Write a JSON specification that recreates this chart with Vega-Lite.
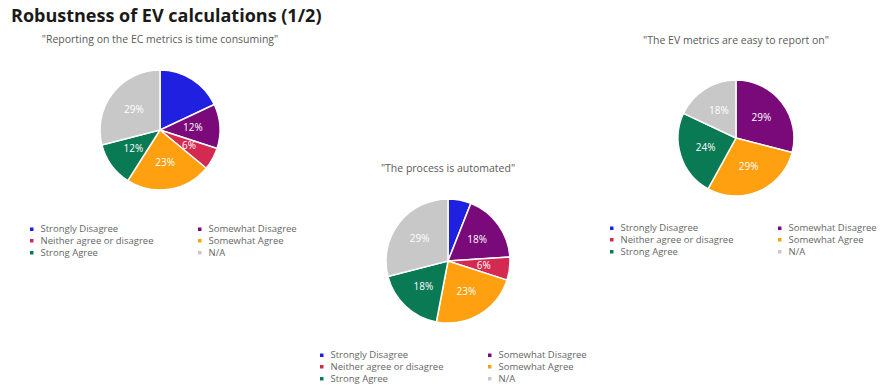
{
  "$schema": "https://vega.github.io/schema/vega-lite/v6.json",
  "padding": {"left": 11, "top": 7, "right": 2, "bottom": 0},
  "background": "white",
  "title": {"text": "Robustness of EV calculations (1/2)", "anchor": "start", "fontSize": 18, "fontWeight": "bold", "color": "#1a1a1a", "offset": 9, "dx": -9, "font": "Open Sans"},
  "datasets": {
    "survey": [
      {"question": "A", "category": "Strongly Disagree", "k": 1, "value": 18, "label": ""},
      {"question": "A", "category": "Somewhat Disagree", "k": 2, "value": 12, "label": "12%"},
      {"question": "A", "category": "Neither agree or disagree", "k": 3, "value": 6, "label": "6%"},
      {"question": "A", "category": "Somewhat Agree", "k": 4, "value": 23, "label": "23%"},
      {"question": "A", "category": "Strong Agree", "k": 5, "value": 12, "label": "12%"},
      {"question": "A", "category": "N/A", "k": 6, "value": 29, "label": "29%"},
      {"question": "B", "category": "Strongly Disagree", "k": 1, "value": 6, "label": ""},
      {"question": "B", "category": "Somewhat Disagree", "k": 2, "value": 18, "label": "18%"},
      {"question": "B", "category": "Neither agree or disagree", "k": 3, "value": 6, "label": "6%"},
      {"question": "B", "category": "Somewhat Agree", "k": 4, "value": 23, "label": "23%"},
      {"question": "B", "category": "Strong Agree", "k": 5, "value": 18, "label": "18%"},
      {"question": "B", "category": "N/A", "k": 6, "value": 29, "label": "29%"},
      {"question": "C", "category": "Somewhat Disagree", "k": 2, "value": 29, "label": "29%"},
      {"question": "C", "category": "Somewhat Agree", "k": 4, "value": 29, "label": "29%"},
      {"question": "C", "category": "Strong Agree", "k": 5, "value": 24, "label": "24%"},
      {"question": "C", "category": "N/A", "k": 6, "value": 18, "label": "18%"}
    ]
  },
  "spacing": 8,
  "resolve": {"legend": {"color": "independent"}},
  "hconcat": [
    {
      "width": 280, "height": 124,
      "data": {"name": "survey"},
      "transform": [{"filter": "datum.question == 'A'"}],
      "title": {"text": "\"Reporting on the EC metrics is time consuming\"", "fontSize": 10.5, "fontWeight": "normal", "color": "#5a5a5a", "offset": 22},
      "encoding": {
        "theta": {"field": "value", "type": "quantitative", "stack": true},
        "order": {"field": "k", "type": "quantitative"}
      },
      "layer": [
        {
          "mark": {"type": "arc", "outerRadius": 60, "stroke": "white", "strokeWidth": 1.5},
          "encoding": {
            "color": {"field": "category", "type": "nominal",
              "scale": {"domain": ["Strongly Disagree", "Somewhat Disagree", "Neither agree or disagree", "Somewhat Agree", "Strong Agree", "N/A"], "range": ["#2020e0", "#7a0a7a", "#d42a52", "#ffa010", "#0a7a55", "#c8c8c8"]},
              "legend": {"orient": "none", "direction": "horizontal", "legendX": 7, "legendY": 156, "columns": 2, "columnPadding": 40, "title": null, "symbolType": "square", "symbolSize": 25, "labelFontSize": 9.5, "labelColor": "#666666", "rowPadding": 0}}
          }
        },
        {
          "mark": {"type": "text", "radius": 33, "color": "white", "fontSize": 10},
          "encoding": {"detail": {"field": "category"}, "text": {"field": "label"}}
        }
      ]
    },
    {
      "spacing": 0,
      "resolve": {"legend": {"color": "independent"}},
      "vconcat": [
        {"width": 280, "height": 95, "data": {"values": []}, "mark": "point"},
        {
          "width": 280, "height": 124,
          "data": {"name": "survey"},
          "transform": [{"filter": "datum.question == 'B'"}],
          "title": {"text": "\"The process is automated\"", "fontSize": 10.5, "fontWeight": "normal", "color": "#5a5a5a", "offset": 22},
          "encoding": {
            "theta": {"field": "value", "type": "quantitative", "stack": true},
            "order": {"field": "k", "type": "quantitative"}
          },
          "layer": [
            {
              "mark": {"type": "arc", "outerRadius": 62, "stroke": "white", "strokeWidth": 1.5},
              "encoding": {
                "color": {"field": "category", "type": "nominal",
                  "scale": {"domain": ["Strongly Disagree", "Somewhat Disagree", "Neither agree or disagree", "Somewhat Agree", "Strong Agree", "N/A"], "range": ["#2020e0", "#7a0a7a", "#d42a52", "#ffa010", "#0a7a55", "#c8c8c8"]},
                  "legend": {"orient": "none", "direction": "horizontal", "legendX": 9, "legendY": 151, "columns": 2, "columnPadding": 40, "title": null, "symbolType": "square", "symbolSize": 25, "labelFontSize": 9.5, "labelColor": "#666666", "rowPadding": 0}}
              }
            },
            {
              "mark": {"type": "text", "radius": 36, "color": "white", "fontSize": 10},
              "encoding": {"detail": {"field": "category"}, "text": {"field": "label"}}
            }
          ]
        }
      ]
    },
    {
      "width": 280, "height": 140,
      "data": {"name": "survey"},
      "transform": [{"filter": "datum.question == 'C'"}],
      "title": {"text": "\"The EV metrics are easy to report on\"", "fontSize": 10.5, "fontWeight": "normal", "color": "#5a5a5a", "offset": 22},
      "encoding": {
        "theta": {"field": "value", "type": "quantitative", "stack": true},
        "order": {"field": "k", "type": "quantitative"}
      },
      "layer": [
        {
          "mark": {"type": "arc", "outerRadius": 58, "stroke": "white", "strokeWidth": 1.5},
          "encoding": {
            "color": {"field": "category", "type": "nominal",
              "scale": {"domain": ["Strongly Disagree", "Somewhat Disagree", "Neither agree or disagree", "Somewhat Agree", "Strong Agree", "N/A"], "range": ["#2020e0", "#7a0a7a", "#d42a52", "#ffa010", "#0a7a55", "#c8c8c8"]},
              "legend": {"orient": "none", "direction": "horizontal", "legendX": 11, "legendY": 155, "columns": 2, "columnPadding": 40, "title": null, "symbolType": "square", "symbolSize": 25, "labelFontSize": 9.5, "labelColor": "#666666", "rowPadding": 0}}
          }
        },
        {
          "mark": {"type": "text", "radius": 32, "color": "white", "fontSize": 10},
          "encoding": {"detail": {"field": "category"}, "text": {"field": "label"}}
        }
      ]
    }
  ],
  "config": {"view": {"stroke": null}, "font": "Open Sans"}
}
